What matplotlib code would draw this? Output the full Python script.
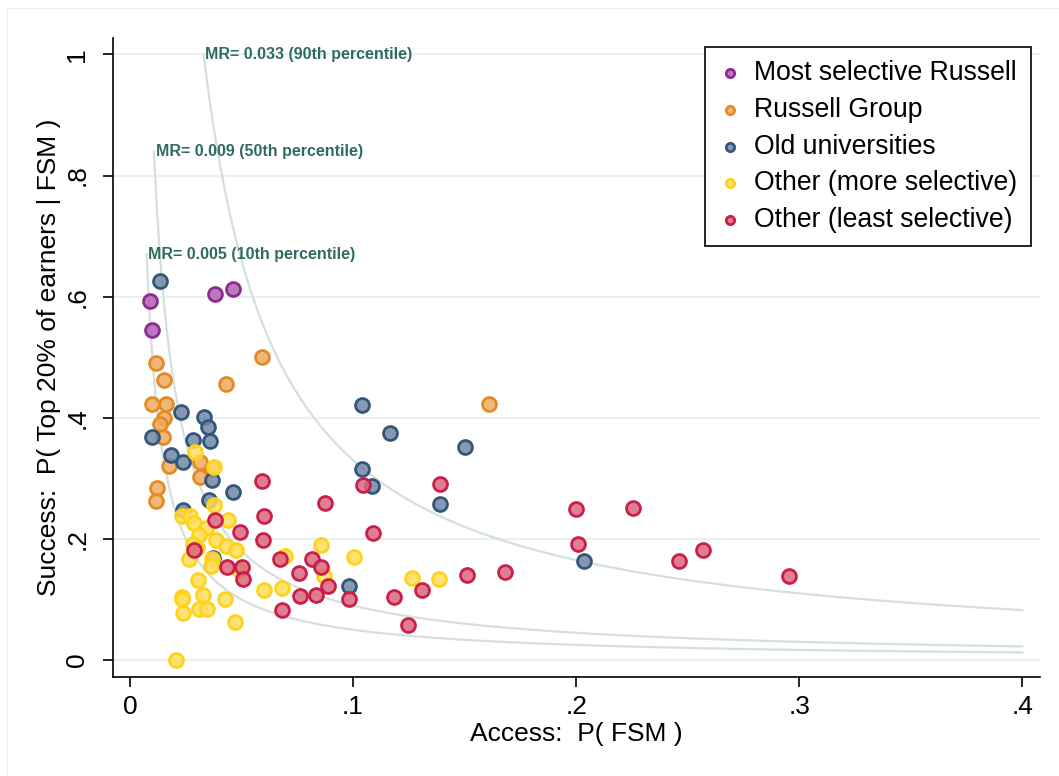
import numpy as np
import matplotlib
matplotlib.use('Agg')
import matplotlib.pyplot as plt
from matplotlib.patches import Rectangle

plt.rcParams['font.family'] = ['Liberation Sans', 'DejaVu Sans']

# data: (access, success) per university group
purple_x = [0.0090, 0.0099, 0.0380, 0.0460]
purple_y = [0.592, 0.545, 0.605, 0.613]

orange_x = [0.0118, 0.0590, 0.0151, 0.0432, 0.0100, 0.0163, 0.0154, 0.0136, 0.0147, 0.0176,
            0.0315, 0.0366, 0.0316, 0.0120, 0.0117, 0.1610]
orange_y = [0.490, 0.500, 0.462, 0.455, 0.423, 0.423, 0.399, 0.389, 0.369, 0.321,
            0.327, 0.315, 0.302, 0.284, 0.262, 0.422]

blue_x = [0.0135, 0.0230, 0.0330, 0.0350, 0.0097, 0.0283, 0.0357, 0.0182, 0.0236, 0.0370,
          0.0460, 0.0353, 0.0236, 0.0372, 0.1042, 0.1166, 0.1040, 0.1085, 0.1389, 0.0982,
          0.1501, 0.2036]
blue_y = [0.625, 0.409, 0.402, 0.385, 0.369, 0.363, 0.362, 0.339, 0.327, 0.298,
          0.277, 0.265, 0.247, 0.168, 0.4205, 0.375, 0.315, 0.288, 0.257, 0.122,
          0.351, 0.164]

yellow_x = [0.0293, 0.0377, 0.0377, 0.0232, 0.0269, 0.0287, 0.0439, 0.0340, 0.0310, 0.0384,
            0.0284, 0.0300, 0.0430, 0.0475, 0.0266, 0.0370, 0.0363, 0.0490, 0.0307, 0.0695,
            0.0600, 0.0680, 0.0233, 0.0233, 0.0329, 0.0427, 0.0239, 0.0310, 0.0347, 0.0472,
            0.0206, 0.0857, 0.1003, 0.0870, 0.1265, 0.1387]
yellow_y = [0.344, 0.318, 0.256, 0.238, 0.237, 0.227, 0.231, 0.218, 0.207, 0.199,
            0.192, 0.185, 0.188, 0.182, 0.167, 0.166, 0.156, 0.149, 0.132, 0.171,
            0.115, 0.119, 0.104, 0.100, 0.107, 0.100, 0.077, 0.084, 0.084, 0.063,
            0.000, 0.190, 0.170, 0.138, 0.135, 0.133]

red_x = [0.0590, 0.0600, 0.0380, 0.0493, 0.0595, 0.0288, 0.0437, 0.0503, 0.0508, 0.0673,
         0.0759, 0.0762, 0.0680, 0.1043, 0.1389, 0.0876, 0.1088, 0.0815, 0.0855, 0.0889,
         0.1308, 0.0833, 0.0980, 0.1185, 0.1247, 0.2000, 0.2257, 0.2010, 0.1510, 0.1683,
         0.2463, 0.2570, 0.2954]
red_y = [0.295, 0.237, 0.231, 0.211, 0.199, 0.182, 0.153, 0.153, 0.134, 0.167,
         0.1435, 0.1065, 0.083, 0.289, 0.290, 0.259, 0.209, 0.167, 0.153, 0.1225,
         0.116, 0.108, 0.100, 0.104, 0.058, 0.249, 0.2505, 0.192, 0.140, 0.145,
         0.164, 0.181, 0.138]

groups = [
    ('Most selective Russell', purple_x, purple_y, '#8e2b8f', (0.70, 0.38, 0.72)),
    ('Russell Group', orange_x, orange_y, '#e38b24', (0.93, 0.67, 0.38)),
    ('Old universities', blue_x, blue_y, '#33577c', (0.44, 0.53, 0.64)),
    ('Other (more selective)', yellow_x, yellow_y, '#ffd21c', (1.00, 0.87, 0.35)),
    ('Other (least selective)', red_x, red_y, '#c91f48', (0.86, 0.40, 0.50)),
]

# mobility-rate contours: MR = access * success
mr_values = [0.033, 0.009, 0.005]
mr_labels = ['MR= 0.033 (90th percentile)', 'MR= 0.009 (50th percentile)',
             'MR= 0.005 (10th percentile)']
mr_top = [1.0, 0.84, 0.67]

fig = plt.figure(figsize=(10.59, 7.76), dpi=100)
ax = fig.add_axes([0.1067, 0.1276, 0.8755, 0.8234])

# faint outer frame like stata's graph region
fig.patches.append(Rectangle((0.007, -0.01), 1.0, 1.0, transform=fig.transFigure,
                             fill=False, edgecolor='#eeeeee', lw=1.0))

for yv in [0, 0.2, 0.4, 0.6, 0.8, 1.0]:
    ax.axhline(yv, color='#eaf0f2', lw=1.6, zorder=0)

for mr, lab, top in zip(mr_values, mr_labels, mr_top):
    xs = np.linspace(mr / top, 0.4, 400)
    ax.plot(xs, mr / xs, color='#d3e0dc', lw=1.6, zorder=1)
    ax.text(mr / top + 0.0008, top, lab, color='#2e6b63', fontsize=11.5,
            fontweight='bold', va='center', ha='left', zorder=2)

for name, gx, gy, edge, face in groups:
    ax.scatter(gx, gy, s=100, facecolor=(*face, 0.85), edgecolor=edge,
               linewidths=2.0, label=name, zorder=3)

ax.set_xlim(-0.0076, 0.408)
ax.set_ylim(-0.028, 1.027)
ax.set_xticks([0, 0.1, 0.2, 0.3, 0.4])
ax.set_xticklabels(['0', '.1', '.2', '.3', '.4'])
ax.set_yticks([0, 0.2, 0.4, 0.6, 0.8, 1.0])
ax.set_yticklabels(['0', '.2', '.4', '.6', '.8', '1'], rotation=90, va='center')
ax.tick_params(labelsize=19, length=7, width=1.2, pad=6)
ax.tick_params(axis='y', pad=10)
for side in ['top', 'right']:
    ax.spines[side].set_visible(False)
for side in ['left', 'bottom']:
    ax.spines[side].set_linewidth(1.2)

ax.set_xlabel('Access:  P( FSM )', fontsize=19, labelpad=2)
ax.set_ylabel('Success:  P( Top 20% of earners | FSM )', fontsize=19, labelpad=3)

leg = ax.legend(loc='upper right', bbox_to_anchor=(0.990, 0.986), borderaxespad=0,
                fontsize=19.2, markerscale=0.6, handletextpad=0.45, labelspacing=0.40,
                borderpad=0.5, handlelength=0.9, fancybox=False, framealpha=1)
leg.get_frame().set_edgecolor('black')
leg.get_frame().set_linewidth(1.2)

fig.savefig('out.png', dpi=100, facecolor='white')
